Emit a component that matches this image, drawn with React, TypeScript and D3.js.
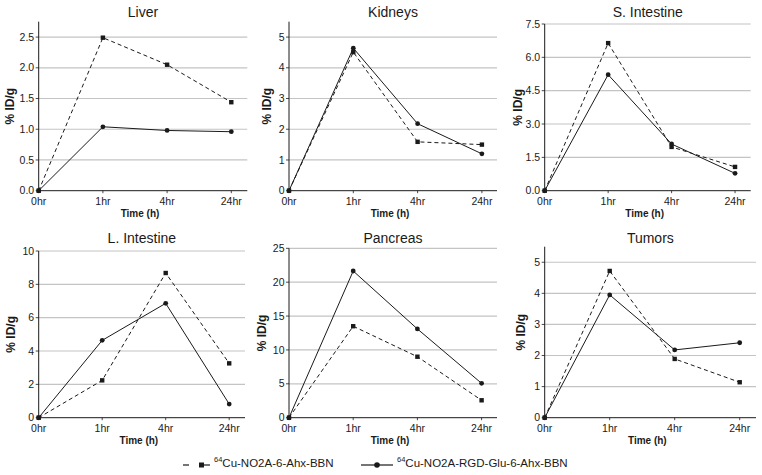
import React from "react";
import * as d3 from "d3";

const timeLabels = ["0hr", "1hr", "4hr", "24hr"];
const panelTitles = ["Liver", "Kidneys", "S. Intestine", "L. Intestine", "Pancreas", "Tumors"];
const seriesNames = ["Cu-NO2A-6-Ahx-BBN", "Cu-NO2A-RGD-Glu-6-Ahx-BBN"];

const bbnValues = [
  [0, 2.49, 2.05, 1.44],
  [0, 4.51, 1.59, 1.5],
  [0, 6.64, 1.97, 1.07],
  [0, 2.24, 8.68, 3.26],
  [0, 13.5, 9.0, 2.57],
  [0, 4.72, 1.89, 1.14],
];
const rgdValues = [
  [0, 1.04, 0.98, 0.96],
  [0, 4.64, 2.18, 1.2],
  [0, 5.22, 2.1, 0.78],
  [0, 4.64, 6.86, 0.82],
  [0, 21.65, 13.1, 5.07],
  [0, 3.95, 2.18, 2.41],
];
const yTickValues = [
  [0, 0.5, 1.0, 1.5, 2.0, 2.5],
  [0, 1, 2, 3, 4, 5],
  [0, 1.5, 3.0, 4.5, 6.0, 7.5],
  [0, 2, 4, 6, 8, 10],
  [0, 5, 10, 15, 20, 25],
  [0, 1, 2, 3, 4, 5],
];
const yAxisMax = [2.75, 5.5, 7.5, 10, 25, 5.5];
const yTickDecimals = [1, 0, 1, 0, 0, 0];

// layout (pixels)
const layout = [
  { left: 38.7, step: 64.2, end: 247.3, bottom: 190.7, top: 21.7, labelOff: 28.5 },
  { left: 289, step: 64.3, end: 497, bottom: 190.7, top: 21.7, labelOff: 22 },
  { left: 544.7, step: 63.45, end: 750.7, bottom: 190.7, top: 24, labelOff: 27 },
  { left: 38.7, step: 63.5, end: 245, bottom: 417.7, top: 251, labelOff: 28 },
  { left: 289, step: 64.2, end: 497, bottom: 417.7, top: 248.3, labelOff: 27 },
  { left: 544.7, step: 65, end: 756, bottom: 417.7, top: 246.7, labelOff: 23.5 },
];

const FONT = "'Liberation Sans', Arial, Helvetica, sans-serif";
const INK = "#1a1a1a";
const GRID = "#c4c4c4";

function Panel({ i }: { i: number }) {
  const L = layout[i];
  const x = d3.scaleLinear().domain([0, 3]).range([L.left, L.left + 3 * L.step]);
  const y = d3.scaleLinear().domain([0, yAxisMax[i]]).range([L.bottom, L.top]);
  const fmt = d3.format(`.${yTickDecimals[i]}f`);
  const line = d3
    .line<number>()
    .x((_, k) => x(k))
    .y((v) => y(v));
  const midX = (L.left + L.end) / 2;
  return (
    <g>
      <text x={midX} y={i < 3 ? 17 : 243} textAnchor="middle" fontSize={14} fill={INK}>
        {panelTitles[i]}
      </text>
      {yTickValues[i].map((t) =>
        t > 0 ? (
          <line key={"g" + t} x1={L.left} x2={L.end} y1={y(t)} y2={y(t)} stroke={GRID} strokeWidth={1.2} />
        ) : null
      )}
      {yTickValues[i].map((t) => (
        <g key={"t" + t}>
          <line x1={L.left - 3} x2={L.left} y1={y(t)} y2={y(t)} stroke={INK} strokeWidth={0.8} />
          <text x={L.left - 4.5} y={y(t)} dy="0.35em" textAnchor="end" fontSize={10.5} fill={INK}>
            {fmt(t)}
          </text>
        </g>
      ))}
      <line x1={L.left} x2={L.left} y1={y(yAxisMax[i])} y2={L.bottom} stroke={INK} strokeWidth={1} />
      <line x1={L.left} x2={L.end} y1={L.bottom} y2={L.bottom} stroke={INK} strokeWidth={1} />
      {timeLabels.map((lab, k) => (
        <g key={lab}>
          <line x1={x(k)} x2={x(k)} y1={L.bottom} y2={L.bottom + 2.5} stroke={INK} strokeWidth={0.8} />
          <text x={x(k)} y={L.bottom + 11} dy="0.35em" textAnchor="middle" fontSize={10.5} fill={INK}>
            {lab}
          </text>
        </g>
      ))}
      <text x={midX - 3} y={L.bottom + 22.5} dy="0.35em" textAnchor="middle" fontSize={10} fontWeight="bold" fill={INK}>
        Time (h)
      </text>
      <text
        transform={`translate(${L.left - L.labelOff},${(L.top + L.bottom) / 2}) rotate(-90)`}
        textAnchor="middle"
        dy="0.35em"
        fontSize={12}
        fontWeight="bold"
        fill={INK}
      >
        % ID/g
      </text>
      <path d={line(bbnValues[i]) || ""} fill="none" stroke={INK} strokeWidth={1} strokeDasharray="4,3" />
      <path d={line(rgdValues[i]) || ""} fill="none" stroke={INK} strokeWidth={1} />
      {bbnValues[i].map((v, k) => (
        <rect key={"s" + k} x={x(k) - 2.2} y={y(v) - 2.2} width={4.4} height={4.4} fill={INK} />
      ))}
      {rgdValues[i].map((v, k) => (
        <circle key={"c" + k} cx={x(k)} cy={y(v)} r={2.4} fill={INK} />
      ))}
    </g>
  );
}

export default function App() {
  const ly = 465;
  return (
    <svg width={762} height={475} style={{ position: "absolute", left: 0, top: 0, background: "#fff" }} fontFamily={FONT}>
      <rect x={0} y={0} width={762} height={475} fill="#fff" />
      {panelTitles.map((_, i) => (
        <Panel key={i} i={i} />
      ))}
      <g>
        <line x1={183} x2={189} y1={ly} y2={ly} stroke={INK} strokeWidth={1.2} />
        <rect x={199} y={ly - 2.5} width={5} height={5} fill={INK} />
        <line x1={204} x2={210} y1={ly} y2={ly} stroke={INK} strokeWidth={1.2} />
        <text x={214} y={ly} dy="0.35em" fontSize={11.5} fill={INK}>
          <tspan fontSize={7.5} dy="-0.45em">64</tspan>
          <tspan dy="0.45em">{seriesNames[0]}</tspan>
        </text>
        <line x1={361} x2={393} y1={ly} y2={ly} stroke={INK} strokeWidth={1.2} />
        <circle cx={377} cy={ly} r={2.8} fill={INK} />
        <text x={397} y={ly} dy="0.35em" fontSize={11.5} fill={INK}>
          <tspan fontSize={7.5} dy="-0.45em">64</tspan>
          <tspan dy="0.45em">{seriesNames[1]}</tspan>
        </text>
      </g>
    </svg>
  );
}
